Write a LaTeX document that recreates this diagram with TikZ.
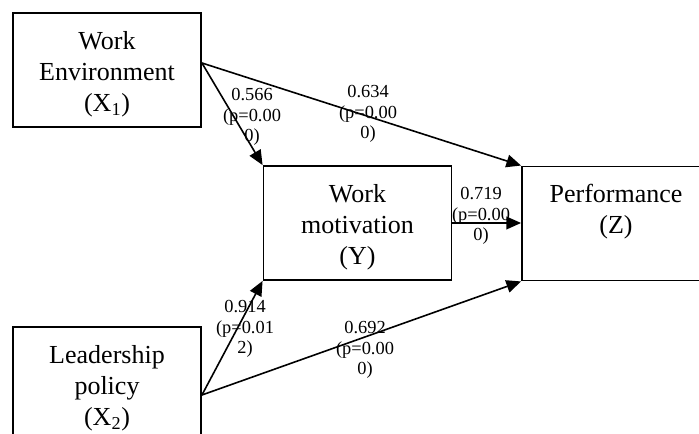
\documentclass[tikz,border=0pt]{standalone}
\usepackage{fontspec}
\setmainfont{Liberation Serif}
\usepackage{tikz}
\usetikzlibrary{arrows.meta}

\begin{document}
\begin{tikzpicture}[x=0.75pt,y=-0.75pt,>={Triangle[length=11pt,width=9.5pt]},
  box/.style={draw,line width=1.4pt,minimum width=141pt,minimum height=85.5pt,inner sep=0pt},
  boxtext/.style={anchor=north,align=center,inner sep=0pt,yshift=-14pt,
    font=\fontsize{19.5}{23.3}\selectfont},
  coef/.style={align=center,inner sep=0pt,font=\fontsize{13.8}{15.4}\selectfont},
  effect/.style={->,line width=1.2pt}]
  \useasboundingbox (0,0) rectangle (699,434);
  \clip (0,0) rectangle (699,434);
  % variables
  \node[box] (wenv) at (107,70) {};
  \node[boxtext] (wenvtxt) at (wenv.north) {Work\\Environment\\(X\textsubscript{1})};
  \node[box] (wmot) at (357.5,223) {};
  \node[boxtext] (wmottxt) at (wmot.north) {Work\\motivation\\(Y)};
  \node[box] (perf) at (616,223.5) {};
  \node[boxtext] (perftxt) at (perf.north) {Performance\\(Z)};
  \node[box] (lead) at (107,384) {};
  \node[boxtext] (leadtxt) at (lead.north) {Leadership\\policy\\(X\textsubscript{2})};
  % paths
  \draw[effect] ([yshift=5.25pt]wenv.east) -- (wmot.north west);
  \draw[effect] ([yshift=5.25pt]wenv.east) -- (perf.north west);
  \draw[effect] (wmot.east) -- (wmot.east -| perf.west);
  \draw[effect] ([yshift=-8.25pt]lead.east) -- (wmot.south west);
  \draw[effect] ([yshift=-8.25pt]lead.east) -- (perf.south west);
  % coefficients
  \node[coef] (c566) at (252,117) {0.566\\(p=0.00\\0)};
  \node[coef] (c634) at (368,114) {0.634\\(p=0.00\\0)};
  \node[coef] (c719) at (481,216) {0.719\\(p=0.00\\0)};
  \node[coef] (c914) at (245,329) {0.914\\(p=0.01\\2)};
  \node[coef] (c692) at (365,350) {0.692\\(p=0.00\\0)};
\end{tikzpicture}
\end{document}
